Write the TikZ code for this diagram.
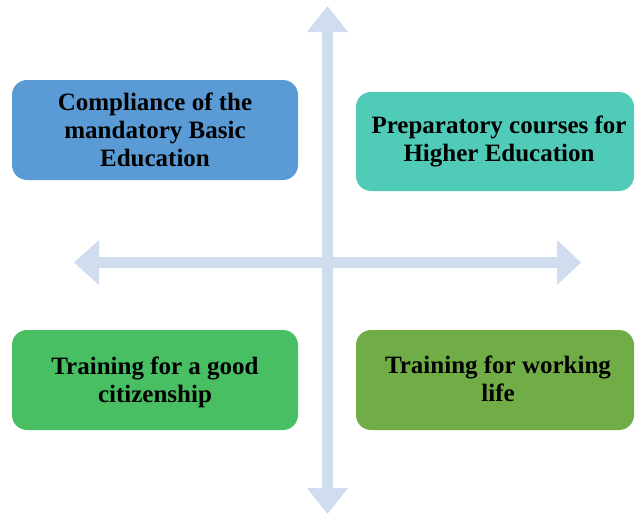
\documentclass[tikz,border=0pt]{standalone}
\usepackage{fontspec}
\setmainfont{Liberation Serif}
\definecolor{axiscol}{RGB}{208,221,238}
\definecolor{boxA}{RGB}{91,155,213}
\definecolor{boxB}{RGB}{80,203,184}
\definecolor{boxC}{RGB}{73,191,100}
\definecolor{boxD}{RGB}{112,173,71}
\tikzset{
  quad/.style={rounded corners=15pt, inner sep=0pt, align=center,
    font=\fontsize{25}{28}\selectfont\bfseries, text=black},
  axisshape/.style={fill=axiscol, draw=none}
}
\begin{document}
\begin{tikzpicture}[x=1pt,y=-1pt]
\useasboundingbox (0,0) rectangle (636,514);
% vertical axis
\fill[axiscol] (322,32) -- (307,32) -- (327.5,6) -- (348,32) -- (333,32)
  -- (333,488) -- (348,488) -- (327.5,514) -- (307,488) -- (322,488) -- cycle;
% horizontal axis
\fill[axiscol] (99,257) -- (99,240) -- (74,262.5) -- (99,285) -- (99,268)
  -- (557,268) -- (557,285) -- (581,262.5) -- (557,240) -- (557,257) -- cycle;
% boxes
\fill[boxA, rounded corners=15pt] (12,80) rectangle (298,180);
\node[quad] (a) at (155,130) {Compliance of the\\mandatory Basic\\Education};
\fill[boxB, rounded corners=15pt] (356,92) rectangle (634,191);
\node[quad] (b) at (499,141.5) {Preparatory courses for\\Higher Education};
\fill[boxC, rounded corners=15pt] (12,330) rectangle (298,430);
\node[quad] (c) at (155,382) {Training for a good\\citizenship};
\fill[boxD, rounded corners=15pt] (356,330) rectangle (634,430);
\node[quad] (d) at (498,379) {Training for working\\life};
\end{tikzpicture}
\end{document}
